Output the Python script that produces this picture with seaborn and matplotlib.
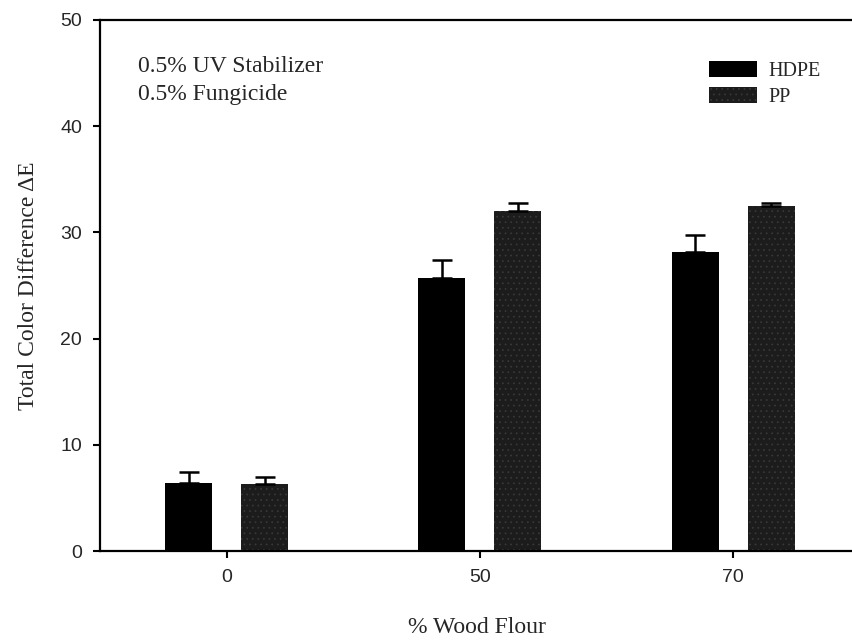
import matplotlib
matplotlib.use("Agg")
import matplotlib.pyplot as plt
import seaborn as sns
import pandas as pd
import numpy as np

# ---- data ----
wood_flour = ["0", "50", "70"]
hdpe_values = [6.4, 25.7, 28.2]
pp_values = [6.3, 32.0, 32.5]
hdpe_err = [1.0, 1.7, 1.6]
pp_err = [0.7, 0.8, 0.3]
series_names = ["HDPE", "PP"]
y_ticks = [0, 10, 20, 30, 40, 50]
note_lines = ["0.5% UV Stabilizer", "0.5% Fungicide"]

df = pd.DataFrame({
    "Wood": wood_flour * 2,
    "Material": [series_names[0]] * 3 + [series_names[1]] * 3,
    "Value": hdpe_values + pp_values,
})

sns.set_theme(style="ticks")
plt.rcParams["font.family"] = ["Liberation Sans", "DejaVu Sans"]
plt.rcParams["hatch.linewidth"] = 0.5

fig = plt.figure(figsize=(8.53, 6.41), dpi=100)
ax = fig.add_axes([100 / 853, 1 - 551 / 641, 1 - 100 / 853, (551 - 20) / 641])

palette = {"HDPE": "#000000", "PP": "#1c1c1c"}
sns.barplot(data=df, x="Wood", y="Value", hue="Material", order=wood_flour,
            hue_order=series_names, palette=palette, width=0.6, gap=0.38,
            errorbar=None, ax=ax, saturation=1, linewidth=0)

# error bars (upper only) from the bar positions computed by seaborn
errs = {"HDPE": hdpe_err, "PP": pp_err}
vals = {"HDPE": hdpe_values, "PP": pp_values}
for cont, name in zip(ax.containers, series_names):
    xs = [p.get_x() + p.get_width() / 2 for p in cont.patches]
    ax.errorbar(xs, vals[name], yerr=[np.zeros(3), errs[name]], fmt="none",
                ecolor="black", elinewidth=1.8, capsize=7, capthick=1.8, zorder=3)

# faint speckle on PP bars
for p in ax.containers[1].patches:
    p.set_hatch("...")
    p.set_edgecolor("#3a3a3a")
    p.set_linewidth(0)

ax.set_ylim(0, 50)
ax.set_xlim(-0.5, 2.473)
ax.set_yticks(y_ticks)
ax.set_yticklabels([str(t) for t in y_ticks], fontsize=14, family="Liberation Sans")
ax.set_xticks(range(3))
ax.set_xticklabels(wood_flour, fontsize=14, family="Liberation Sans")
ax.tick_params(axis="both", direction="out", length=5, width=1.5, color="black", pad=8)

for s in ["left", "bottom", "top"]:
    ax.spines[s].set_visible(True)
    ax.spines[s].set_linewidth(1.6)
    ax.spines[s].set_color("black")
ax.spines["right"].set_visible(False)

ax.set_xlabel("% Wood Flour", fontsize=17, family="Liberation Serif", labelpad=22)
ax.set_ylabel("Total Color Difference \u0394E", fontsize=17, family="Liberation Serif", labelpad=15)

for i, line in enumerate(note_lines):
    fig.text(138 / 853, 1 - (72 + 28 * i) / 641, line, fontsize=17,
             family="Liberation Serif", va="baseline", ha="left")

leg = ax.legend(loc="upper left", bbox_to_anchor=(699 / 853, 1 - 51 / 641),
                bbox_transform=fig.transFigure, frameon=False, borderpad=0,
                handlelength=2.4, handleheight=0.85, handletextpad=0.55,
                labelspacing=0.3, prop={"family": "Liberation Serif", "size": 14.5})
for h in leg.legend_handles:
    h.set_linewidth(0)
leg.legend_handles[1].set_hatch("...")
leg.legend_handles[1].set_edgecolor("#3a3a3a")

fig.savefig("out.png", dpi=100, facecolor="white")
